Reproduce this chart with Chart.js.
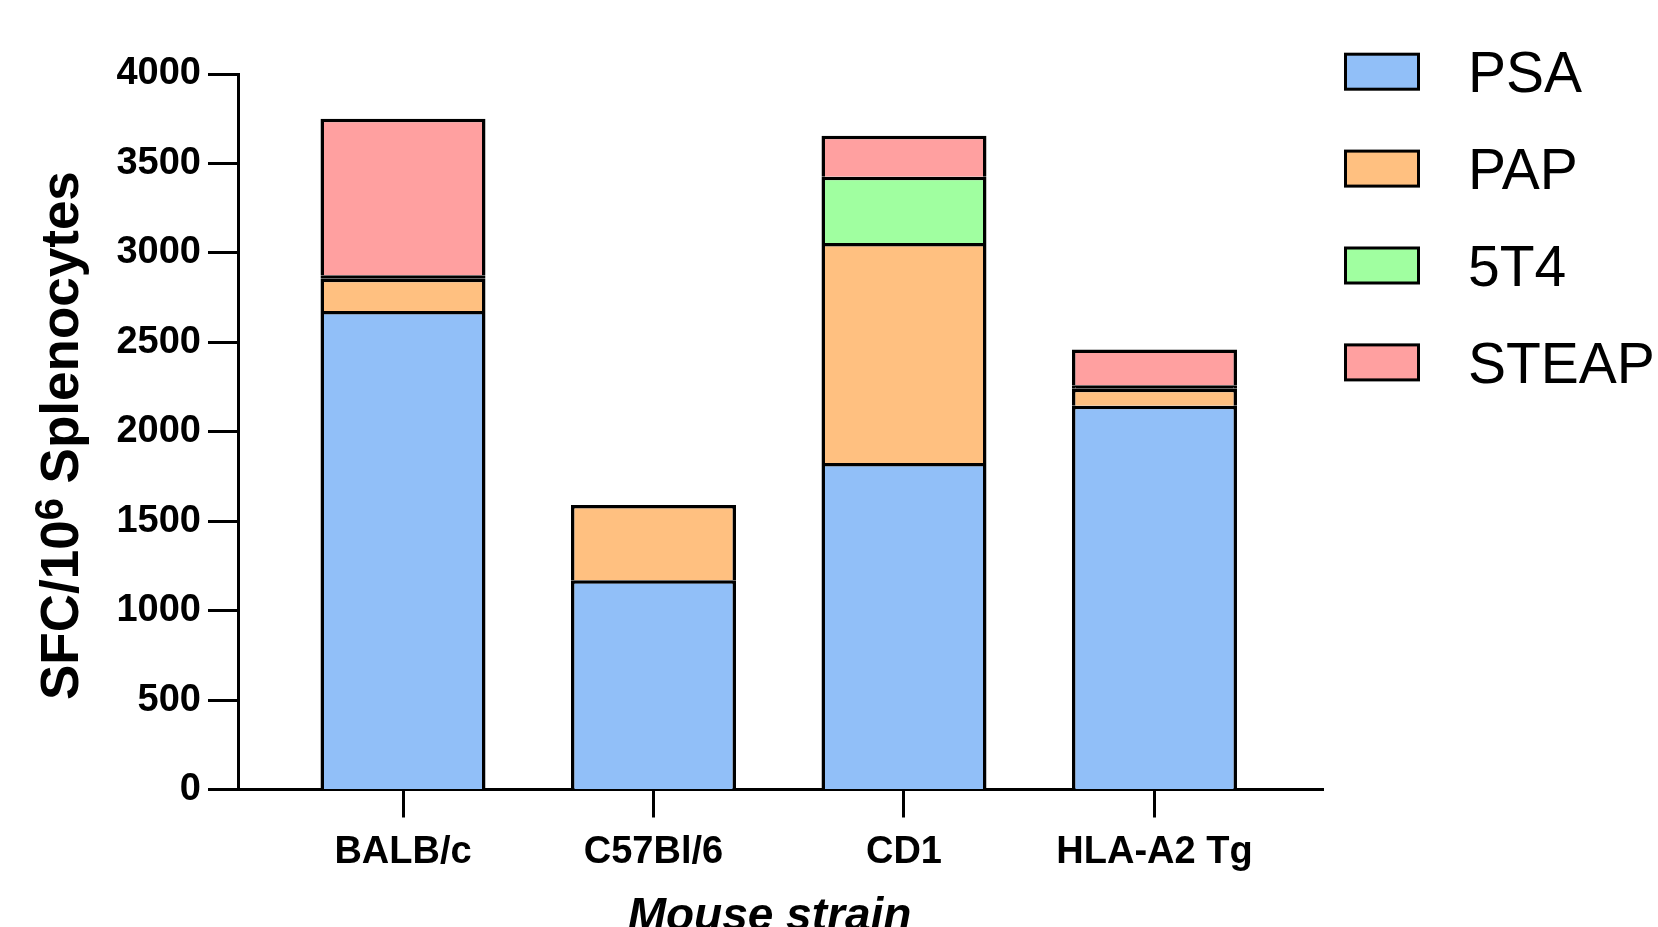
<!DOCTYPE html>
<html>
<head>
<meta charset="utf-8">
<script src="https://cdn.jsdelivr.net/npm/chart.js@4/dist/chart.umd.min.js"></script>
<style>
  html, body { margin: 0; padding: 0; background: #fff; }
  #wrap { width: 1658px; height: 927px; position: relative; }
</style>
</head>
<body>
<div id="wrap"><canvas id="c"></canvas></div>
<script>
// ---- data ----
const categories = ['BALB/c', 'C57Bl/6', 'CD1', 'HLA-A2 Tg'];
const seriesNames = ['PSA', 'PAP', '5T4', 'STEAP'];
const psa   = [2675, 1170, 1825, 2145];
const pap   = [180,  420,  1230, 95];
const t5t4  = [20,   0,    370,  20];
const steap = [875,  0,    230,  200];
const yTicks = [0, 500, 1000, 1500, 2000, 2500, 3000, 3500, 4000];
const yTitleMain = 'SFC/10';
const yTitleSup = '6';
const yTitleRest = ' Splenocytes';
const xTitle = 'Mouse strain';

// ---- styles ----
const colors = ['#91BFF8', '#FFC080', '#A0FFA0', '#FFA0A0'];
const FONT = "'Liberation Sans', Arial, Helvetica, sans-serif";

function toPoints(arr) {
  return arr.map((v, i) => ({ x: i, y: v })).filter(p => p.y > 0);
}
const seriesValues = [psa, pap, t5t4, steap];

const datasets = seriesValues.map((arr, k) => ({
  label: seriesNames[k],
  data: toPoints(arr),
  backgroundColor: (ctx) => (ctx.raw && ctx.raw.y < 50) ? '#000' : colors[k],
  borderColor: '#000',
  borderWidth: 3.5,
  barThickness: 165,
  inflateAmount: 0
}));

const titlesAndLegend = {
  id: 'titlesAndLegend',
  afterDraw(chart) {
    const ctx = chart.ctx;
    ctx.save();
    // legend
    const sx = 1344, sw = 76, sh = 38, y0 = 52.7, step = 96.9;
    chart.data.datasets.forEach((ds, k) => {
      const top = y0 + k * step;
      ctx.fillStyle = '#000';
      ctx.fillRect(sx, top, sw, sh);
      ctx.fillStyle = colors[k];
      ctx.fillRect(sx + 3, top + 3, sw - 6, sh - 6);
      ctx.fillStyle = '#000';
      ctx.font = "57px " + FONT;
      ctx.textAlign = 'left';
      ctx.textBaseline = 'alphabetic';
      ctx.fillText(ds.label, 1468, top + 39.6);
    });
    // y title (rotated, with superscript)
    const fMain = "bold 53px " + FONT;
    const fSup = "bold 40px " + FONT;
    ctx.font = fMain;
    const w1 = ctx.measureText(yTitleMain).width;
    const w3 = ctx.measureText(yTitleRest).width;
    ctx.font = fSup;
    const w2 = ctx.measureText(yTitleSup).width;
    const total = w1 + w2 + w3;
    ctx.translate(78, 435.6);
    ctx.rotate(-Math.PI / 2);
    ctx.textAlign = 'left';
    ctx.textBaseline = 'alphabetic';
    let x = -total / 2;
    ctx.font = fMain;
    ctx.fillText(yTitleMain, x, 0);
    x += w1;
    ctx.font = fSup;
    ctx.fillText(yTitleSup, x, -15);
    x += w2;
    ctx.font = fMain;
    ctx.fillText(yTitleRest, x, 0);
    ctx.restore();
    // x title
    ctx.save();
    ctx.font = "italic bold 46px " + FONT;
    ctx.fillStyle = '#000';
    ctx.textAlign = 'center';
    ctx.textBaseline = 'alphabetic';
    ctx.fillText(xTitle, 769.5, 929.5);
    ctx.restore();
  }
};

new Chart(document.getElementById('c'), {
  type: 'bar',
  data: { datasets },
  plugins: [titlesAndLegend],
  options: {
    responsive: true,
    maintainAspectRatio: false,
    animation: false,
    layout: { padding: { top: 74, right: 335, left: 0, bottom: 0 } },
    plugins: { legend: { display: false }, tooltip: { enabled: false } },
    scales: {
      x: {
        type: 'linear',
        stacked: true,
        offset: false,
        min: -0.6587,
        max: 3.6727,
        afterBuildTicks: (axis) => { axis.ticks = categories.map((_, i) => ({ value: i })); },
        afterFit: (scale) => { scale.height = 137.5; },
        grid: { offset: false, drawOnChartArea: false, drawTicks: true, tickLength: 28, tickWidth: 3, tickColor: '#000' },
        border: { display: true, color: '#000', width: 3 },
        ticks: {
          autoSkip: false,
          maxRotation: 0,
          padding: 12,
          color: '#000',
          font: { family: FONT, size: 38, weight: 'bold' },
          callback: (v) => categories[v]
        }
      },
      y: {
        stacked: true,
        min: 0,
        max: 4000,
        afterBuildTicks: (axis) => { axis.ticks = yTicks.map(v => ({ value: v })); },
        afterFit: (scale) => { scale.width = 238; },
        grid: { drawOnChartArea: false, drawTicks: true, tickLength: 30, tickWidth: 3, tickColor: '#000' },
        border: { display: true, color: '#000', width: 3 },
        ticks: {
          padding: 7,
          color: '#000',
          font: { family: FONT, size: 38, weight: 'bold' },
          callback: (v) => String(v)
        }
      }
    }
  }
});
</script>
</body>
</html>
